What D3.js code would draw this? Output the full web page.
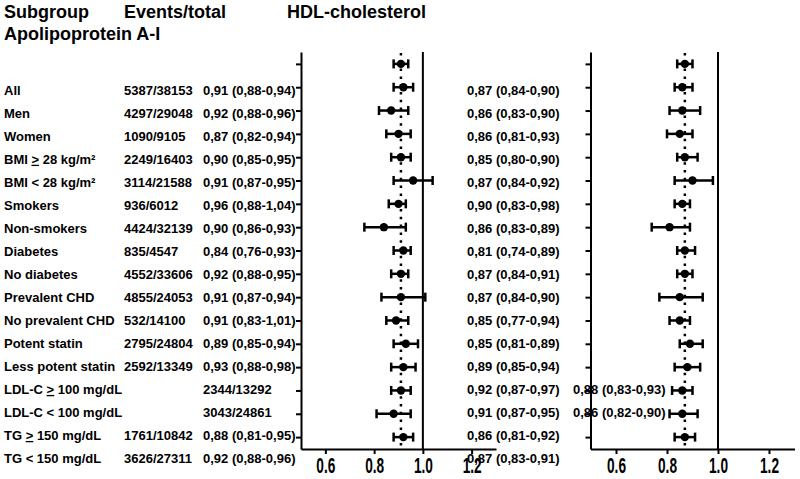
<!DOCTYPE html>
<html lang="en">
<head>
  <meta charset="UTF-8">
  <title>Forest plot</title>
  <script src="https://cdn.jsdelivr.net/npm/d3@7"></script>
  <style>
    html, body { margin: 0; padding: 0; background: #fff; }
    svg { display: block; font-family: "Liberation Sans", Arial, sans-serif; font-weight: bold; }
  </style>
</head>
<body>
  <svg id="chart" width="800" height="479"></svg>
  <script>
    // subgroup rows
    const subgroups = ['All', 'Men', 'Women', 'BMI ≥ 28 kg/m²', 'BMI < 28 kg/m²', 'Smokers', 'Non-smokers',
      'Diabetes', 'No diabetes', 'Prevalent CHD', 'No prevalent CHD', 'Potent statin', 'Less potent statin',
      'LDL-C ≥ 100 mg/dL', 'LDL-C < 100 mg/dL', 'TG ≥ 150 mg/dL', 'TG < 150 mg/dL'];
    const events = ['5387/38153', '4297/29048', '1090/9105', '2249/16403', '3114/21588', '936/6012', '4424/32139',
      '835/4547', '4552/33606', '4855/24053', '532/14100', '2795/24804', '2592/13349',
      '2344/13292', '3043/24861', '1761/10842', '3626/27311'];
    // rows whose text ended up one column to the right in the original figure
    const shiftedRows = ['LDL-C ≥ 100 mg/dL', 'LDL-C < 100 mg/dL'];

    // left panel
    const hrA = [0.91, 0.92, 0.87, 0.90, 0.91, 0.96, 0.90, 0.84, 0.92, 0.91, 0.91, 0.89, 0.93, 0.92, 0.91, 0.88, 0.92];
    const loA = [0.88, 0.88, 0.82, 0.85, 0.87, 0.88, 0.86, 0.76, 0.88, 0.87, 0.83, 0.85, 0.88, 0.87, 0.87, 0.81, 0.88];
    const hiA = [0.94, 0.96, 0.94, 0.95, 0.95, 1.04, 0.93, 0.93, 0.95, 0.94, 1.01, 0.94, 0.98, 0.97, 0.95, 0.95, 0.96];
    // right panel
    const hrB = [0.87, 0.86, 0.86, 0.85, 0.87, 0.90, 0.86, 0.81, 0.87, 0.87, 0.85, 0.85, 0.89, 0.88, 0.86, 0.86, 0.87];
    const loB = [0.84, 0.83, 0.81, 0.80, 0.84, 0.83, 0.83, 0.74, 0.84, 0.84, 0.77, 0.81, 0.85, 0.83, 0.82, 0.81, 0.83];
    const hiB = [0.90, 0.90, 0.93, 0.90, 0.92, 0.98, 0.89, 0.89, 0.91, 0.90, 0.94, 0.89, 0.94, 0.93, 0.90, 0.92, 0.91];

    const xTicks = [0.6, 0.8, 1.0, 1.2];
    const xDomain = [0.5, 1.3];

    const svg = d3.select('#chart');
    const fmt = v => d3.format('.2f')(v).replace('.', ',');
    const ci = (h, l, u) => `${fmt(h)} (${fmt(l)}-${fmt(u)})`;

    const rows = subgroups.map((s, i) => ({
      name: s, events: events[i], shifted: shiftedRows.includes(s),
      a: {hr: hrA[i], lo: loA[i], hi: hiA[i]},
      b: {hr: hrB[i], lo: loB[i], hi: hiB[i]}
    }));

    // rows in the plots and rows of text do not line up in the figure
    const yPlot = d3.scalePoint().domain(subgroups).range([52, 449]).padding(0.51);
    const yText = d3.scalePoint().domain(subgroups).range([90, 458.3]);

    // headers
    const head = svg.append('g').style('font-size', '18px');
    head.append('text').attr('x', 4).attr('y', 18).text('Subgroup');
    head.append('text').attr('x', 124).attr('y', 18).text('Events/total');
    head.append('text').attr('x', 287).attr('y', 18).text('HDL-cholesterol');
    head.append('text').attr('x', 4).attr('y', 39.5).text('Apolipoprotein A-I');

    function panel(x0, x1, key) {
      const x = d3.scaleLinear().domain(xDomain).range([x0, x1]);
      const g = svg.append('g');
      const ref = rows[0][key].hr;

      g.append('g').attr('transform', 'translate(0,449)')
        .call(d3.axisBottom(x).tickValues(xTicks).tickFormat(d3.format('.1f')).tickSize(5).tickSizeOuter(0).tickPadding(3))
        .call(a => a.selectAll('path,line').attr('stroke', '#000').attr('stroke-width', 2))
        .call(a => a.selectAll('text').attr('fill', '#000')
          .style('font-size', '22px').style('font-weight', 'bold').style('font-family', '"Liberation Sans", Arial, sans-serif')
          .attr('textLength', 19).attr('lengthAdjust', 'spacingAndGlyphs'));

      g.append('g').attr('transform', `translate(${x0},0)`)
        .call(d3.axisLeft(yPlot).tickFormat('').tickSize(5).tickSizeOuter(0))
        .call(a => a.selectAll('path,line').attr('stroke', '#000').attr('stroke-width', 2));

      // line of no effect and overall estimate
      g.append('line').attr('x1', x(1)).attr('x2', x(1)).attr('y1', 52).attr('y2', 449)
        .attr('stroke', '#000').attr('stroke-width', 2);
      g.append('line').attr('x1', x(ref)).attr('x2', x(ref)).attr('y1', 53).attr('y2', 449)
        .attr('stroke', '#000').attr('stroke-width', 2.5).attr('stroke-dasharray', '2.5,5.3');

      const bar = g.selectAll('g.row').data(rows).join('g').attr('class', 'row')
        .attr('transform', d => `translate(0,${yPlot(d.name)})`);
      bar.append('line').attr('x1', d => x(d[key].lo)).attr('x2', d => x(d[key].hi))
        .attr('stroke', '#000').attr('stroke-width', 2.5);
      bar.append('line').attr('x1', d => x(d[key].lo)).attr('x2', d => x(d[key].lo))
        .attr('y1', -4.5).attr('y2', 4.5).attr('stroke', '#000').attr('stroke-width', 2.5);
      bar.append('line').attr('x1', d => x(d[key].hi)).attr('x2', d => x(d[key].hi))
        .attr('y1', -4.5).attr('y2', 4.5).attr('stroke', '#000').attr('stroke-width', 2.5);
      bar.append('circle').attr('cx', d => x(d[key].hr)).attr('r', 4.2).attr('fill', '#000');
    }

    panel(301, 496, 'a');
    panel(590.5, 794.5, 'b');

    // text table, drawn on top
    const txt = svg.append('g').style('font-size', '13px');
    const line = txt.selectAll('g').data(rows).join('g')
      .attr('transform', d => `translate(0,${yText(d.name) + 4.7})`);

    const label = line.append('text').attr('x', 4);
    label.each(function (d) {
      const parts = d.name.split('≥');
      const t = d3.select(this);
      parts.forEach((p, i) => {
        if (i > 0) t.append('tspan').style('text-decoration', 'underline').text('>');
        t.append('tspan').text(p);
      });
    });

    line.filter(d => !d.shifted).append('text').attr('x', 124).text(d => d.events);
    line.append('text').attr('x', 203).text(d => d.shifted ? d.events : ci(d.a.hr, d.a.lo, d.a.hi));
    line.append('text').attr('x', 467).text(d => d.shifted ? ci(d.a.hr, d.a.lo, d.a.hi) : ci(d.b.hr, d.b.lo, d.b.hi));
    line.filter(d => d.shifted).append('text').attr('x', 573).text(d => ci(d.b.hr, d.b.lo, d.b.hi));
  </script>
</body>
</html>
